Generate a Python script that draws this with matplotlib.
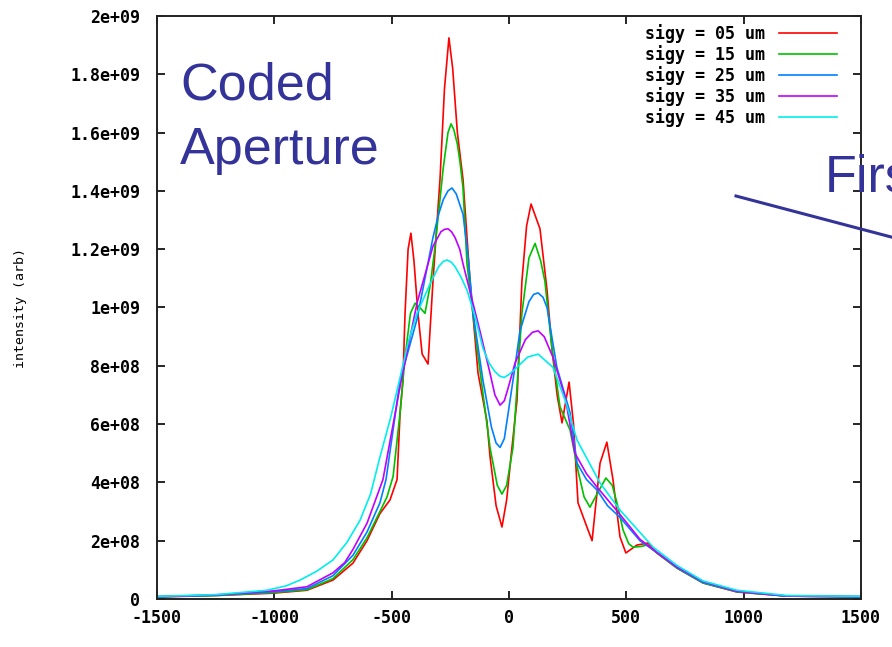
import numpy as np
import matplotlib
matplotlib.use("Agg")
import matplotlib.pyplot as plt
from matplotlib.lines import Line2D

# beam profiles, y in units of 1e8
red_x = [-1500, -1250, -1005, -861, -750, -665, -605, -550, -507, -477, -464, -452, -443, -430, -418,
         -405, -388, -370, -345, -324, -294, -275, -256, -240, -220, -196, -166, -132, -94, -81, -55,
         -30, -10, 10, 34, 55, 75, 94, 132, 162, 183, 205, 226, 256, 275, 294, 332, 354, 388, 417,
         443, 473, 498, 545, 592, 630, 716, 827, 971, 1184, 1500]
red_y = [0.07, 0.12, 0.2, 0.3, 0.65, 1.23, 2.0, 2.93, 3.4, 4.1, 6.4, 7.5, 9.8, 12.0, 12.55,
         11.6, 9.8, 8.4, 8.06, 10.9, 14.4, 17.5, 19.25, 18.2, 16.0, 14.4, 10.9, 7.75, 6.1, 4.9, 3.2,
         2.47, 3.4, 5.0, 6.8, 10.9, 12.8, 13.55, 12.7, 10.6, 8.6, 7.0, 6.04, 7.44, 6.0, 3.3, 2.47, 2.0, 4.66, 5.38,
         4.1, 2.13, 1.58, 1.85, 1.92, 1.58, 1.06, 0.55, 0.24, 0.1, 0.07]

green_x = [-1500, -1250, -1000, -861, -750, -665, -605, -550, -520, -494, -464, -443, -420, -400, -380,
           -358, -335, -315, -280, -260, -247, -235, -220, -209, -196, -179, -136, -81, -50, -30, -10, 17,
           55, 85, 111, 135, 153, 183, 217, 260, 294, 320, 345, 375, 413, 440, 460, 486, 510, 528, 560,
           588, 630, 716, 827, 971, 1184, 1500]
green_y = [0.08, 0.12, 0.22, 0.32, 0.7, 1.35, 2.1, 3.0, 3.5, 4.2, 6.4, 8.3, 9.8, 10.15, 10.0,
           9.8, 10.8, 12.1, 14.8, 16.0, 16.3, 16.1, 15.6, 15.0, 14.1, 11.5, 8.6, 5.2, 3.9, 3.6, 3.9, 5.2,
           9.8, 11.7, 12.2, 11.6, 10.9, 8.6, 6.6, 5.8, 4.4, 3.5, 3.15, 3.6, 4.15, 3.9, 3.3, 2.37, 1.9, 1.78, 1.8,
           1.85, 1.58, 1.06, 0.55, 0.25, 0.1, 0.08]

blue_x = [-1500, -1250, -1000, -861, -750, -665, -605, -550, -524, -464, -392, -324, -300, -280, -260,
          -243, -225, -196, -175, -153, -111, -75, -55, -38, -20, -5, 17, 47, 85, 105, 124, 145, 162,
          204, 260, 290, 330, 375, 420, 473, 558, 630, 716, 827, 971, 1184, 1500]
blue_y = [0.08, 0.13, 0.25, 0.36, 0.8, 1.5, 2.3, 3.3, 4.1, 7.5, 9.6, 12.4, 13.2, 13.7, 14.0,
          14.1, 13.9, 13.2, 11.8, 9.8, 7.5, 5.9, 5.35, 5.2, 5.5, 6.3, 7.5, 9.2, 10.2, 10.45, 10.5, 10.35, 10.0,
          7.95, 6.4, 4.66, 4.1, 3.74, 3.2, 2.8, 2.0, 1.6, 1.08, 0.57, 0.26, 0.1, 0.08]

magenta_x = [-1500, -1250, -1000, -861, -750, -700, -665, -605, -537, -464, -392, -324, -290, -275, -260,
             -245, -230, -210, -196, -124, -81, -60, -38, -20, -5, 26, 70, 100, 124, 150, 187, 240, 281,
             330, 375, 473, 558, 630, 716, 827, 971, 1184, 1500]
magenta_y = [0.08, 0.14, 0.28, 0.42, 0.9, 1.25, 1.7, 2.6, 4.1, 7.3, 10.15, 12.1, 12.6, 12.68, 12.7,
             12.6, 12.4, 12.0, 11.5, 9.2, 7.75, 7.0, 6.65, 6.8, 7.2, 8.1, 8.9, 9.15, 9.2, 9.0, 8.3, 6.9, 5.0,
             4.3, 3.84, 2.9, 2.05, 1.6, 1.1, 0.6, 0.27, 0.1, 0.08]

cyan_x = [-1500, -1250, -1031, -950, -890, -820, -750, -690, -635, -590, -550, -505, -464, -430, -392,
          -337, -300, -280, -264, -245, -230, -205, -179, -145, -111, -85, -60, -40, -21, 0, 34, 80,
          124, 187, 240, 290, 388, 473, 614, 716, 827, 971, 1184, 1500]
cyan_y = [0.09, 0.15, 0.3, 0.45, 0.65, 0.95, 1.34, 1.95, 2.7, 3.6, 4.87, 6.2, 7.6, 8.8, 9.8,
          10.8, 11.4, 11.58, 11.63, 11.55, 11.4, 11.05, 10.6, 9.7, 8.6, 8.1, 7.8, 7.65, 7.6, 7.7, 7.95, 8.3,
          8.4, 7.95, 6.8, 5.45, 3.98, 3.05, 1.78, 1.15, 0.62, 0.3, 0.12, 0.09]

labels = ["sigy = 05 um", "sigy = 15 um", "sigy = 25 um", "sigy = 35 um", "sigy = 45 um"]
colors = ["#ff0000", "#00c000", "#0080ff", "#c000ff", "#00eeee"]

xticks = [-1500, -1000, -500, 0, 500, 1000, 1500]
yticks = [0, 2e8, 4e8, 6e8, 8e8, 1e9, 1.2e9, 1.4e9, 1.6e9, 1.8e9, 2e9]
ytick_labels = ["0", "2e+08", "4e+08", "6e+08", "8e+08", "1e+09", "1.2e+09", "1.4e+09", "1.6e+09",
                "1.8e+09", "2e+09"]

mono = "DejaVu Sans Mono"
slide_blue = "#333399"

fig = plt.figure(figsize=(8.92, 6.47), dpi=100)
ax = fig.add_axes([157 / 892, 48 / 647, 704 / 892, 583 / 647])

series = [(red_x, red_y), (green_x, green_y), (blue_x, blue_y), (magenta_x, magenta_y), (cyan_x, cyan_y)]
for (xs, ys), c, lab in zip(series, colors, labels):
    ax.plot(xs, np.array(ys) * 1e8, color=c, lw=1.2, label=lab)

ax.set_xlim(-1500, 1500)
ax.set_ylim(0, 2e9)
ax.set_xticks(xticks)
ax.set_xticklabels([str(t) for t in xticks], fontfamily=mono, fontsize=12, fontweight="bold")
ax.set_yticks(yticks)
ax.set_yticklabels(ytick_labels, fontfamily=mono, fontsize=12, fontweight="bold")
ax.tick_params(direction="in", length=6, width=1.2, top=True, right=True, pad=7)
ax.tick_params(axis="y", pad=12)
for s in ax.spines.values():
    s.set_linewidth(1.4)
    s.set_color("#222222")
ax.set_ylabel("intensity (arb)", fontfamily=mono, fontsize=9.5, labelpad=31)

ax.legend(loc="upper right", frameon=False, markerfirst=False,
          prop={"family": mono, "size": 12, "weight": "bold"},
          handlelength=3.5, handletextpad=0.8, labelspacing=0.12, borderpad=0, borderaxespad=0,
          bbox_to_anchor=(837 / 892, 1 - 24 / 647), bbox_transform=fig.transFigure)

# slide overlays
fig.text(180 / 892, 1 - 100 / 647, "Coded", color=slide_blue, fontfamily="Liberation Sans",
         fontsize=37.5, va="baseline", ha="left")
fig.text(180 / 892, 1 - 164 / 647, "Aperture", color=slide_blue, fontfamily="Liberation Sans",
         fontsize=37.5, va="baseline", ha="left")
fig.text(825 / 892, 1 - 192 / 647, "First", color=slide_blue, fontfamily="Liberation Sans",
         fontsize=37.5, va="baseline", ha="left")
fig.add_artist(Line2D([736 / 892, 1.05], [1 - 196 / 647, 1 - 249 / 647], color=slide_blue, lw=2.2,
                      transform=fig.transFigure))

fig.savefig("out.png", dpi=100)
